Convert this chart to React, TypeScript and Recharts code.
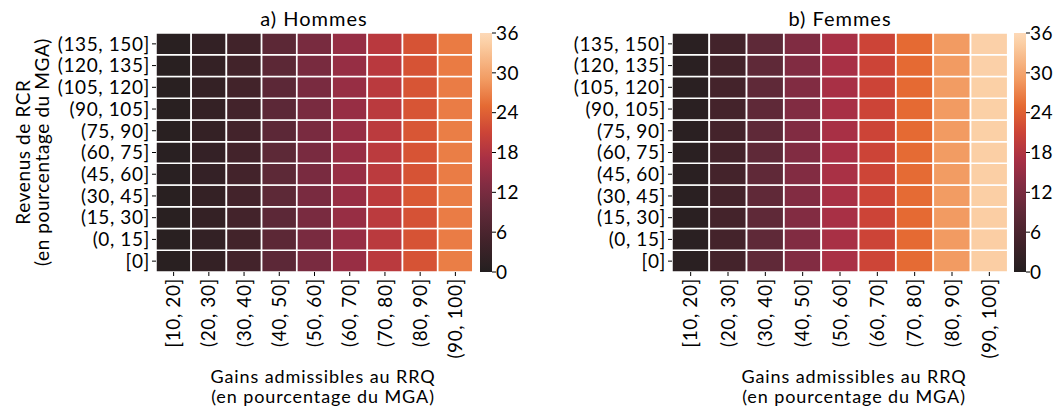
import React from 'react';
import { BarChart, Bar, Cell, XAxis, YAxis } from 'recharts';

const FONT = 'Lato, sans-serif';
const FS = 19;
const LS = 0.6;

const colLabels = ['[10, 20]', '(20, 30]', '(30, 40]', '(40, 50]', '(50, 60]', '(60, 70]', '(70, 80]', '(80, 90]', '(90, 100]'];

// bottom to top
const rowLabels = ['[0]', '(0, 15]', '(15, 30]', '(30, 45]', '(45, 60]', '(60, 75]', '(75, 90]', '(90, 105]', '(105, 120]', '(120, 135]', '(135, 150]'];

// rows bottom ([0]) to top ((135, 150])
const hommesValues = [
  [0.8, 2.5, 4.8, 8.6, 12.1, 15.4, 19.0, 22.6, 26.6],
  [0.8, 2.4, 4.7, 8.5, 12.0, 15.3, 19.0, 22.6, 26.5],
  [0.8, 2.5, 4.8, 8.6, 12.0, 15.3, 19.1, 22.5, 26.5],
  [0.8, 2.5, 4.9, 8.7, 12.1, 15.4, 19.2, 23.2, 26.6],
  [0.9, 2.6, 4.9, 8.7, 12.1, 15.4, 19.1, 22.6, 26.5],
  [0.9, 2.6, 4.9, 8.7, 12.1, 15.4, 19.1, 22.7, 26.6],
  [0.8, 2.5, 4.9, 8.6, 12.0, 15.3, 19.1, 22.9, 26.6],
  [0.8, 2.5, 4.8, 8.6, 12.0, 15.3, 19.0, 22.8, 26.5],
  [0.8, 2.5, 4.7, 8.6, 12.0, 15.3, 19.0, 22.8, 26.5],
  [0.8, 2.5, 4.7, 8.5, 11.9, 15.2, 18.9, 22.6, 26.4],
  [0.8, 2.4, 4.6, 8.5, 11.9, 15.2, 18.9, 22.6, 26.4],
];

const femmesValues = [
  [1.0, 5.0, 9.1, 13.1, 17.1, 21.1, 25.1, 29.0, 34.4],
  [1.0, 5.0, 9.0, 13.0, 17.0, 21.0, 25.0, 29.0, 34.4],
  [1.0, 5.0, 9.0, 13.1, 17.0, 21.0, 25.0, 29.0, 34.4],
  [1.0, 5.0, 9.1, 13.1, 17.1, 21.1, 25.1, 29.1, 34.5],
  [1.0, 5.0, 9.1, 13.1, 17.1, 21.1, 25.1, 29.1, 34.5],
  [1.0, 5.0, 9.0, 13.0, 17.0, 21.0, 25.1, 29.1, 34.5],
  [1.0, 5.0, 9.0, 13.0, 17.0, 21.0, 25.0, 29.0, 34.6],
  [1.0, 5.0, 9.0, 13.0, 17.0, 21.0, 25.0, 29.0, 34.6],
  [1.0, 5.0, 9.0, 13.0, 17.0, 21.0, 25.0, 29.1, 34.6],
  [1.0, 5.0, 9.0, 13.0, 17.0, 21.0, 25.0, 29.0, 34.7],
  [1.0, 4.9, 8.9, 12.9, 17.0, 21.0, 25.0, 29.0, 34.7],
];

const cbTicks = [0, 6, 12, 18, 24, 30, 36];
const VMAX = 36;

// colour map (value, colour)
const CMAP: [number, string][] = [
  [0, '#231e1f'],
  [1, '#2a2022'],
  [5, '#44232b'],
  [9, '#5f2938'],
  [13, '#812c42'],
  [17, '#a83045'],
  [21, '#cc4437'],
  [25, '#e56a33'],
  [29, '#f29b62'],
  [34.5, '#fbcfa5'],
  [36, '#fdd9b8'],
];

const hex = (c: string) => [1, 3, 5].map((i) => parseInt(c.slice(i, i + 2), 16));

function colorFor(v: number) {
  for (let i = 1; i < CMAP.length; i++) {
    if (v <= CMAP[i][0]) {
      const [v0, c0] = CMAP[i - 1];
      const [v1, c1] = CMAP[i];
      const t = (v - v0) / (v1 - v0);
      const a = hex(c0);
      const b = hex(c1);
      const m = a.map((x, k) => Math.round(x + (b[k] - x) * t));
      return `rgb(${m[0]},${m[1]},${m[2]})`;
    }
  }
  return CMAP[CMAP.length - 1][1];
}

const tickStyle = { fill: '#000', fontSize: FS, fontFamily: FONT, letterSpacing: LS };

const XTick = (props: any) => {
  const { x, y, payload } = props;
  return (
    <text
      x={x}
      y={y}
      transform={`rotate(-90, ${x}, ${y})`}
      textAnchor="end"
      dy="0.35em"
      fontSize={FS}
      fontFamily={FONT}
      letterSpacing={LS}
      fill="#000"
    >
      {payload.value}
    </text>
  );
};

interface HeatmapProps {
  values: number[][];
  left: number;
  width: number;
  yAxisWidth: number;
  rightMargin: number;
}

const Heatmap: React.FC<HeatmapProps> = ({ values, left, width, yAxisWidth, rightMargin }) => {
  const data = colLabels.map((c) => {
    const o: any = { col: c };
    rowLabels.forEach((_, i) => (o['r' + i] = 1));
    return o;
  });
  return (
    <div style={{ position: 'absolute', left, top: 0 }}>
      <BarChart
        width={width}
        height={408}
        data={data}
        margin={{ top: 33, right: rightMargin, bottom: 0, left: 0 }}
        barCategoryGap={0}
        barGap={0}
      >
        <XAxis
          dataKey="col"
          type="category"
          height={136}
          axisLine={false}
          tickLine={{ stroke: '#000' }}
          tickSize={4}
          tickMargin={2}
          interval={0}
          tick={<XTick />}
        />
        <YAxis
          type="number"
          domain={[0, rowLabels.length]}
          ticks={rowLabels.map((_, i) => i + 0.5)}
          tickFormatter={(v: number) => rowLabels[Math.floor(v)]}
          width={yAxisWidth}
          axisLine={false}
          tickLine={{ stroke: '#000' }}
          tickSize={4}
          tickMargin={2}
          interval={0}
          tick={tickStyle}
        />
        {rowLabels.map((_, i) => (
          <Bar key={i} dataKey={'r' + i} stackId="a" isAnimationActive={false}>
            {data.map((_, j) => (
              <Cell key={j} fill={colorFor(values[i][j])} stroke="#fff" strokeWidth={1.5} />
            ))}
          </Bar>
        ))}
      </BarChart>
    </div>
  );
};

interface ColorbarProps {
  id: string;
  left: number;
  width: number;
}

const Colorbar: React.FC<ColorbarProps> = ({ id, left, width }) => (
  <div style={{ position: 'absolute', left, top: 0 }}>
    <BarChart
      width={width}
      height={408}
      data={[{ name: 'cb', v: VMAX }]}
      margin={{ top: 33, right: 0, bottom: 136, left: 10 }}
      barCategoryGap={0}
    >
      <defs>
        <linearGradient id={id} x1="0" y1="0" x2="0" y2="1">
          {CMAP.map(([v, c]) => (
            <stop key={v} offset={`${((VMAX - v) / VMAX) * 100}%`} stopColor={c} />
          )).reverse()}
        </linearGradient>
      </defs>
      <XAxis dataKey="name" hide />
      <YAxis
        orientation="right"
        type="number"
        domain={[0, VMAX]}
        ticks={cbTicks}
        interval={0}
        width={width - 22}
        axisLine={false}
        tickLine={{ stroke: '#000' }}
        tickSize={4}
        tickMargin={0}
        tick={tickStyle}
      />
      <Bar dataKey="v" fill={`url(#${id})`} isAnimationActive={false} />
    </BarChart>
  </div>
);

const textStyle: React.CSSProperties = {
  position: 'absolute',
  fontFamily: FONT,
  fontSize: FS,
  letterSpacing: LS,
  color: '#000',
  lineHeight: '19px',
  textAlign: 'center',
  whiteSpace: 'nowrap',
};

const xTitleStyle: React.CSSProperties = { ...textStyle, fontSize: 18, letterSpacing: 0.9, lineHeight: '20px' };

const titleStyle: React.CSSProperties = { ...textStyle, fontSize: 20, letterSpacing: 1, lineHeight: '22px' };

export default function App() {
  return (
    <div style={{ position: 'absolute', left: 0, top: 0, width: 1060, height: 408, background: '#fff', overflow: 'hidden' }}>
      <Heatmap values={hommesValues} left={0} width={480} yAxisWidth={156} rightMargin={7} />
      <Colorbar id="cb-h" left={470} width={70} />
      <Heatmap values={femmesValues} left={530} width={478} yAxisWidth={142} rightMargin={0} />
      <Colorbar id="cb-f" left={1004} width={56} />

      <div style={{ ...titleStyle, left: 214, width: 200, top: 7 }}>a) Hommes</div>
      <div style={{ ...titleStyle, left: 740, width: 200, top: 7 }}>b) Femmes</div>

      <div style={{ ...xTitleStyle, left: 173, width: 300, top: 366 }}>
        Gains admissibles au RRQ
        <br />
        (en pourcentage du MGA)
      </div>
      <div style={{ ...xTitleStyle, left: 704, width: 300, top: 366 }}>
        Gains admissibles au RRQ
        <br />
        (en pourcentage du MGA)
      </div>

      <div
        style={{
          ...textStyle,
          left: 32 - 150,
          top: 152 - 19,
          width: 300,
          height: 38,
          transform: 'rotate(-90deg)',
          transformOrigin: '150px 19px',
        }}
      >
        Revenus de RCR
        <br />
        (en pourcentage du MGA)
      </div>
    </div>
  );
}
